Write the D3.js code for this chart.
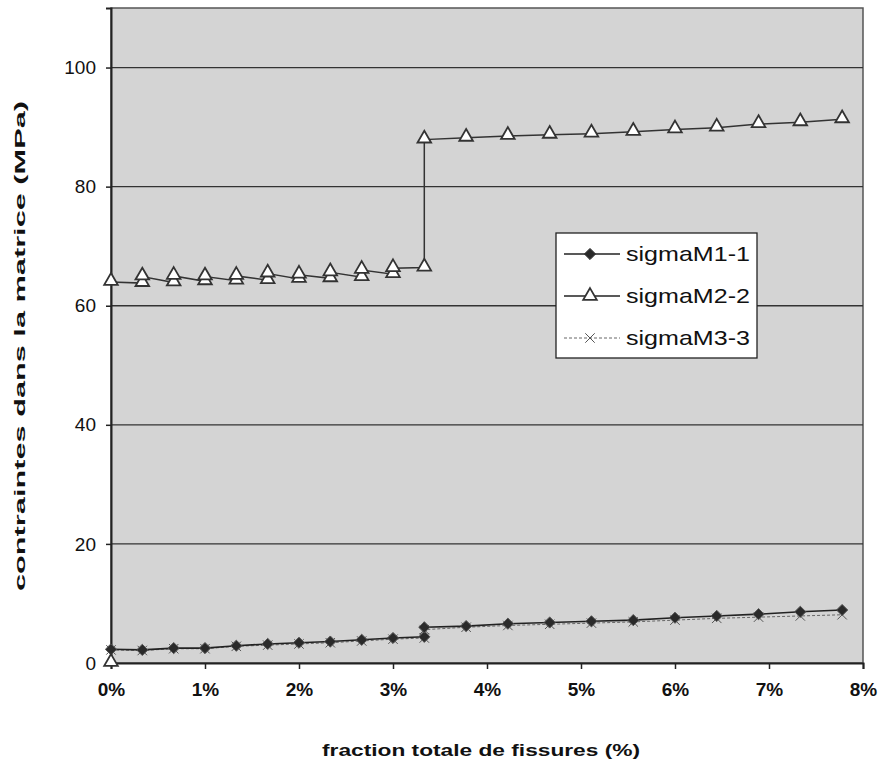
<!DOCTYPE html>
<html>
<head>
<meta charset="utf-8">
<script src="https://cdn.jsdelivr.net/npm/d3@7"></script>
<style>
  body { margin: 0; background: #fff; }
  text { font-family: "Liberation Sans", Arial, sans-serif; fill: #111; }
</style>
</head>
<body>
<div id="chart"></div>
<script>
// donnees
const xTicks = [0, 1, 2, 3, 4, 5, 6, 7, 8];
const yTicks = [0, 20, 40, 60, 80, 100];

// sigmaM1-1 : [fraction %, MPa]
const sigmaM1 = [
  [0, 2.3], [0.333, 2.2], [0.667, 2.5], [1.0, 2.5], [1.333, 2.9], [1.667, 3.2],
  [2.0, 3.4], [2.333, 3.6], [2.667, 3.9], [3.0, 4.2], [3.333, 4.4], [3.333, 6.0],
  [3.778, 6.2], [4.222, 6.6], [4.667, 6.8], [5.111, 7.0], [5.556, 7.2],
  [6.0, 7.6], [6.444, 7.9], [6.889, 8.2], [7.333, 8.6], [7.778, 8.9]
];

// sigmaM2-2 (points doubles sur la premiere partie)
const sigmaM2 = [
  [0, 0], [0, 64.0],
  [0.333, 63.8], [0.333, 64.9],
  [0.667, 63.9], [0.667, 65.0],
  [1.0, 64.1], [1.0, 64.9],
  [1.333, 64.2], [1.333, 65.0],
  [1.667, 64.3], [1.667, 65.4],
  [2.0, 64.5], [2.0, 65.2],
  [2.333, 64.6], [2.333, 65.6],
  [2.667, 64.8], [2.667, 66.0],
  [3.0, 65.3], [3.0, 66.3],
  [3.333, 66.4], [3.333, 87.9],
  [3.778, 88.2], [4.222, 88.5], [4.667, 88.7], [5.111, 88.9], [5.556, 89.2],
  [6.0, 89.6], [6.444, 89.9], [6.889, 90.5], [7.333, 90.8], [7.778, 91.3]
];

// sigmaM3-3
const sigmaM3 = [
  [0, 2.2], [0.333, 2.1], [0.667, 2.4], [1.0, 2.4], [1.333, 2.8], [1.667, 3.0],
  [2.0, 3.2], [2.333, 3.4], [2.667, 3.7], [3.0, 4.0], [3.333, 4.2], [3.333, 5.6],
  [3.778, 6.0], [4.222, 6.3], [4.667, 6.5], [5.111, 6.7], [5.556, 6.9],
  [6.0, 7.2], [6.444, 7.5], [6.889, 7.7], [7.333, 7.9], [7.778, 8.1]
];

const seriesNames = ["sigmaM1-1", "sigmaM2-2", "sigmaM3-3"];

const width = 887;
const height = 768;
const margin = { top: 8, right: 24, bottom: 105, left: 111 };

const svg = d3.select("#chart").append("svg")
  .attr("width", width)
  .attr("height", height);

const x = d3.scaleLinear().domain([0, 8]).range([margin.left, width - margin.right]);
const y = d3.scaleLinear().domain([0, 110]).range([height - margin.bottom, margin.top]);

// fond gris de la zone de trace
svg.append("rect")
  .attr("x", x(0)).attr("y", y(110))
  .attr("width", x(8) - x(0)).attr("height", y(0) - y(110))
  .attr("fill", "#d4d4d4")
  .attr("stroke", "#555").attr("stroke-width", 1.5);

// quadrillage
svg.append("g").selectAll("line")
  .data(yTicks.filter(d => d > 0))
  .join("line")
  .attr("x1", x(0)).attr("x2", x(8))
  .attr("y1", d => y(d)).attr("y2", d => y(d))
  .attr("stroke", "#333").attr("stroke-width", 1.3);

// axes
const xAxis = d3.axisBottom(x).tickValues(xTicks).tickSize(6).tickPadding(14)
  .tickFormat(d => d + "%");
const yAxis = d3.axisLeft(y).tickValues(yTicks).tickSize(5).tickPadding(10);

const xAxisGroup = svg.append("g")
  .attr("transform", `translate(0, ${y(0)})`)
  .call(xAxis);
xAxisGroup.select(".domain").attr("stroke", "#222").attr("stroke-width", 2);
xAxisGroup.selectAll(".tick line").attr("stroke", "#222").attr("stroke-width", 1.5);
xAxisGroup.selectAll("text")
  .style("font-size", "19px").style("font-weight", "bold").attr("fill", "#111");

const yAxisGroup = svg.append("g")
  .attr("transform", `translate(${x(0)}, 0)`)
  .call(yAxis);
yAxisGroup.select(".domain").attr("stroke", "#222").attr("stroke-width", 2);
yAxisGroup.selectAll(".tick line").attr("stroke", "#222").attr("stroke-width", 1.5);
yAxisGroup.selectAll("text")
  .style("font-size", "19px").attr("fill", "#111");

// titres des axes
svg.append("text")
  .attr("x", 481).attr("y", 756)
  .attr("text-anchor", "middle")
  .attr("textLength", 318).attr("lengthAdjust", "spacingAndGlyphs")
  .style("font-size", "17px").style("font-weight", "bold")
  .text("fraction totale de fissures (%)");

svg.append("text")
  .attr("transform", `translate(25, 346) rotate(-90)`)
  .attr("text-anchor", "middle")
  .attr("textLength", 490).attr("lengthAdjust", "spacingAndGlyphs")
  .style("font-size", "15px").style("font-weight", "bold")
  .text("contraintes dans la matrice (MPa)");

// courbes
const line = d3.line().x(d => x(d[0])).y(d => y(d[1]));

const plot = svg.append("g");

plot.append("path").datum(sigmaM3)
  .attr("d", line).attr("fill", "none")
  .attr("stroke", "#666").attr("stroke-width", 1).attr("stroke-dasharray", "3,2");

plot.append("path").datum(sigmaM1)
  .attr("d", line).attr("fill", "none")
  .attr("stroke", "#222").attr("stroke-width", 1.6);

plot.append("path").datum(sigmaM2.slice(1))
  .attr("d", line).attr("fill", "none")
  .attr("stroke", "#333").attr("stroke-width", 1.5);

const diamond = d3.symbol().type(d3.symbolDiamond2).size(80);
const triangle = d3.symbol().type(d3.symbolTriangle).size(80);
const cross = d3.symbol().type(d3.symbolX).size(60);

plot.append("g").selectAll("path")
  .data(sigmaM3).join("path")
  .attr("d", cross)
  .attr("transform", d => `translate(${x(d[0])}, ${y(d[1])})`)
  .attr("fill", "none").attr("stroke", "#555").attr("stroke-width", 1);

plot.append("g").selectAll("path")
  .data(sigmaM1).join("path")
  .attr("d", diamond)
  .attr("transform", d => `translate(${x(d[0])}, ${y(d[1])})`)
  .attr("fill", "#2a2a2a").attr("stroke", "#555").attr("stroke-width", 1);

plot.append("g").selectAll("path")
  .data(sigmaM2).join("path")
  .attr("d", triangle)
  .attr("transform", d => `translate(${x(d[0])}, ${y(d[1]) - 1})`)
  .attr("fill", "#fff").attr("stroke", "#333").attr("stroke-width", 1.8);

// legende
const legend = svg.append("g").attr("transform", "translate(556, 233)");
legend.append("rect")
  .attr("width", 201).attr("height", 125)
  .attr("fill", "#fff").attr("stroke", "#222").attr("stroke-width", 1.3);

const legendItems = legend.selectAll("g.item")
  .data(seriesNames)
  .join("g")
  .attr("class", "item")
  .attr("transform", (d, i) => `translate(0, ${21 + i * 42})`);

legendItems.append("line")
  .attr("x1", 8).attr("x2", 64).attr("y1", 0).attr("y2", 0)
  .attr("stroke", (d, i) => i === 2 ? "#666" : "#222")
  .attr("stroke-width", (d, i) => i === 2 ? 1 : 1.5)
  .attr("stroke-dasharray", (d, i) => i === 2 ? "3,2" : null);

legendItems.append("path")
  .attr("transform", "translate(34, 0)")
  .attr("d", (d, i) => i === 0 ? diamond() : i === 1 ? triangle() : cross())
  .attr("fill", (d, i) => i === 0 ? "#2a2a2a" : i === 1 ? "#fff" : "none")
  .attr("stroke", (d, i) => i === 2 ? "#555" : "#333")
  .attr("stroke-width", (d, i) => i === 1 ? 1.8 : 1);

legendItems.append("text")
  .attr("x", 70).attr("y", 7)
  .attr("textLength", 124).attr("lengthAdjust", "spacingAndGlyphs")
  .style("font-size", "21px")
  .text(d => d);
</script>
</body>
</html>
